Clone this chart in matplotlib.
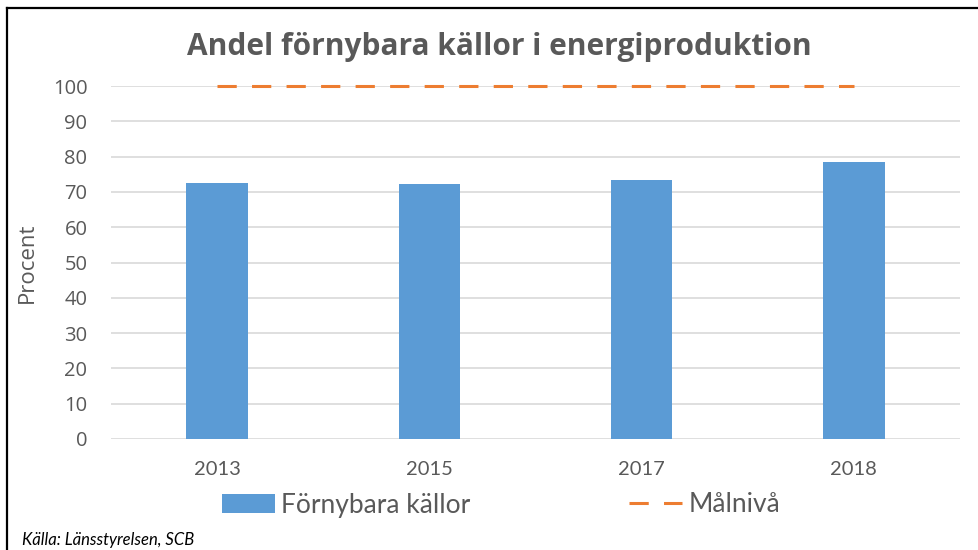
import matplotlib
matplotlib.use('Agg')
import matplotlib.pyplot as plt
from matplotlib.lines import Line2D
from matplotlib.patches import Patch

# Data
years = ['2013', '2015', '2017', '2018']
fornybara = [72.6, 72.3, 73.5, 78.5]
malniva = [100, 100, 100, 100]

titel = 'Andel förnybara källor i energiproduktion'
kalla = 'Källa: Länsstyrelsen, SCB'

BLUE = '#5B9BD5'
ORANGE = '#ED7D31'
GREY = '#595959'

fig = plt.figure(figsize=(9.79, 5.5), dpi=100)
ax = fig.add_axes([111 / 979, 1 - 439 / 550, 849 / 979, 353 / 550])

x = list(range(len(years)))
ax.bar(x, fornybara, width=0.29, color=BLUE, zorder=2)
ax.plot(x, malniva, color=ORANGE, lw=2.2, linestyle=(0, (6.3, 5)),
        solid_capstyle='butt', clip_on=False, zorder=3)

ax.set_xlim(-0.5, len(years) - 0.5)
ax.set_ylim(0, 100)
ax.set_yticks(range(0, 101, 10))
ax.set_xticks(x)
ax.set_xticklabels(years, fontfamily='Lato', fontsize=14.5, color=GREY)
for lab in ax.get_yticklabels():
    lab.set_fontfamily('Open Sans')
    lab.set_fontsize(14.5)
    lab.set_color(GREY)
ax.tick_params(axis='both', length=0)
ax.tick_params(axis='y', pad=17)
ax.tick_params(axis='x', pad=16)

ax.grid(axis='y', color='#D9D9D9', lw=1.2, zorder=0)
for s in ax.spines.values():
    s.set_visible(False)

ax.set_ylabel('Procent', fontfamily='Open Sans', fontsize=16, color=GREY,
              va='center')
ax.yaxis.set_label_coords(-0.098, 0.5)

# Titel
fig.text(499 / 979, 1 - 47 / 550, titel, ha='center', va='center',
         fontfamily='Open Sans', fontweight='bold', fontsize=21.5, color=GREY)

# Legend
handles = [Patch(facecolor=BLUE, edgecolor='none'),
           Line2D([0], [0], color=ORANGE, lw=2.2, linestyle=(0, (6.3, 5)))]
leg = fig.legend(handles, ['Förnybara källor', 'Målnivå'], loc='center',
                 bbox_to_anchor=(501 / 979, 1 - 505 / 550), ncol=2,
                 frameon=False, handlelength=2.0, handletextpad=0.25,
                 columnspacing=6.0, prop={'family': 'Lato', 'size': 19})
for t in leg.get_texts():
    t.set_color(GREY)

# Källa
fig.text(22 / 979, 1 - 540 / 550, kalla, ha='left', va='center',
         fontfamily='Lato', fontstyle='italic', fontsize=12, color='black')

# Ram
fig.add_artist(Line2D([7 / 979, 7 / 979], [0, 1 - 8 / 550], color='black', lw=1.6))
fig.add_artist(Line2D([7 / 979, 1], [1 - 8 / 550, 1 - 8 / 550], color='black', lw=1.6))

fig.savefig('out.png', dpi=100)
